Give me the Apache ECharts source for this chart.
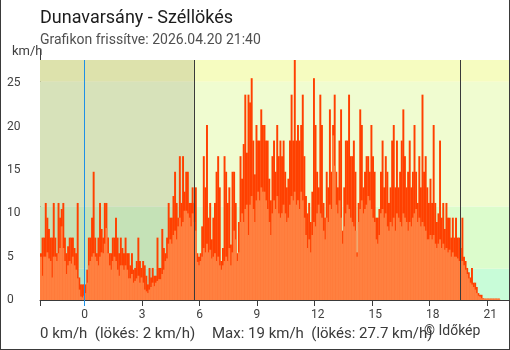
<!DOCTYPE html>
<html>
<head>
<meta charset="utf-8">
<script src="https://cdn.jsdelivr.net/npm/echarts@6/dist/echarts.min.js"></script>
<style>
  html, body { margin: 0; padding: 0; background: #ffffff; }
  #chart { width: 510px; height: 350px; }
</style>
</head>
<body>
<div id="chart"></div>
<script>
// 24 hours of wind readings, one value every 5 minutes, starting 21:40 the previous evening.
const startHour = -(2 + 20 / 60);
const stepHours = 5 / 60;
const axisEndHour = 22.15;

// Gusts (km/h)
const gustKmh = [
  5.4, 7.2, 7.2, 11.2, 9.5, 8.2, 7.2, 7.2, 11.2, 7.2, 5.4, 11.2, 9.5, 10.5, 11.2, 7.2, 5.4, 6.2, 7.2, 7.2,
  7.2, 6.0, 5.4, 11.2, 2.6, 1.8, 1.8, 1.8, 1.8, 3.5, 7.2, 7.2, 9.5, 14.8, 7.2, 5.4, 7.2, 11.2, 8.2, 7.2,
  11.2, 11.2, 7.2, 5.4, 5.4, 7.2, 7.2, 9.5, 7.2, 5.4, 7.2, 6.0, 5.4, 7.2, 5.4, 5.4, 4.0, 5.4, 3.5, 3.7,
  4.5, 7.2, 4.5, 3.7, 4.5, 4.0, 2.8, 1.8, 3.7, 2.6, 3.7, 2.8, 2.8, 7.2, 3.7, 3.7, 8.2, 6.0, 5.4, 7.2,
  11.2, 9.5, 9.5, 12.0, 14.8, 11.2, 9.5, 16.6, 11.2, 16.6, 12.5, 14.8, 14.8, 11.2, 11.2, 13.0, 11.2, 13.0, 5.4, 5.0,
  5.4, 8.5, 16.6, 13.0, 20.2, 9.5, 11.2, 7.0, 9.5, 11.2, 14.8, 16.6, 13.0, 4.5, 6.0, 16.6, 14.8, 11.2, 13.0, 6.4,
  14.8, 14.8, 11.2, 5.4, 9.0, 16.6, 14.0, 18.0, 23.7, 17.0, 23.7, 22.8, 25.6, 18.4, 14.5, 20.2, 18.4, 18.4, 22.0, 20.2,
  20.2, 18.4, 18.4, 14.0, 11.5, 16.6, 18.4, 14.8, 20.2, 16.6, 18.4, 16.6, 18.4, 14.8, 13.0, 14.0, 18.4, 23.7, 18.4, 27.7,
  18.4, 20.2, 18.4, 20.2, 23.7, 16.6, 12.0, 10.0, 11.2, 9.0, 12.5, 25.6, 20.2, 14.8, 13.0, 23.7, 20.2, 11.2, 9.5, 14.8,
  13.0, 22.0, 14.8, 20.2, 23.7, 14.8, 13.0, 18.4, 22.0, 8.0, 13.0, 18.4, 18.4, 23.7, 16.6, 16.6, 18.4, 14.8, 5.5, 11.2,
  22.0, 20.2, 13.0, 14.8, 16.6, 16.6, 14.8, 20.2, 16.6, 14.8, 9.5, 9.5, 10.5, 14.8, 18.4, 13.0, 16.6, 14.8, 11.2, 13.0,
  18.4, 20.2, 13.0, 18.4, 13.0, 14.8, 18.4, 22.0, 16.6, 13.0, 14.8, 18.4, 13.0, 14.8, 20.2, 14.8, 11.2, 16.6, 13.0, 23.7,
  14.8, 16.6, 13.0, 11.2, 14.0, 11.2, 20.2, 11.2, 9.0, 10.0, 18.4, 9.5, 11.2, 8.2, 11.2, 9.5, 9.5, 7.2, 9.5, 7.2,
  9.5, 7.2, 7.2, 6.0, 9.5, 5.0, 4.5, 3.7, 3.2, 2.6, 3.7, 2.0, 2.0, 1.5, 0.8, 0.6, 0.6, 0.2, 0.15, 0.15,
  0.15, 0.15, 0.15, 0.15, 0.15, 0.15, 0.15, 0.15
];

// Average wind speed (km/h)
const avgKmh = [
  5.0, 2.8, 5.0, 5.0, 5.5, 4.8, 4.5, 2.6, 5.0, 5.0, 4.5, 5.4, 6.0, 8.5, 6.0, 4.5, 3.0, 4.0, 4.5, 4.2,
  5.0, 4.0, 3.5, 2.5, 1.2, 0.4, 0.3, 0.5, 0.8, 2.0, 4.0, 4.5, 5.0, 5.4, 5.0, 4.5, 4.0, 5.0, 5.5, 5.4,
  6.5, 8.3, 5.4, 4.0, 3.5, 4.5, 5.0, 4.5, 3.5, 2.8, 4.0, 4.0, 3.5, 4.0, 3.5, 2.5, 2.5, 3.0, 2.0, 2.2,
  2.5, 2.8, 2.0, 2.6, 2.0, 1.2, 1.0, 0.8, 1.2, 1.5, 2.0, 1.6, 2.0, 2.2, 2.4, 2.4, 3.0, 3.5, 4.5, 4.8,
  6.5, 7.0, 6.5, 7.5, 8.0, 7.0, 8.5, 9.5, 8.5, 9.0, 10.3, 10.3, 10.0, 9.5, 8.5, 10.0, 9.0, 8.0, 4.4, 4.0,
  4.5, 5.0, 6.0, 5.5, 6.5, 5.5, 5.8, 4.8, 5.0, 5.4, 4.5, 5.0, 4.0, 3.5, 4.0, 4.5, 5.0, 4.5, 6.0, 4.0,
  5.5, 8.0, 7.0, 4.5, 5.5, 9.0, 10.0, 9.0, 10.5, 11.0, 7.5, 11.0, 12.0, 10.5, 9.0, 11.5, 12.5, 11.5, 13.0, 12.5,
  12.5, 11.5, 10.5, 9.0, 7.5, 10.0, 11.5, 10.5, 12.0, 10.0, 9.5, 10.0, 11.0, 10.0, 9.0, 9.5, 11.0, 12.0, 11.5, 12.5,
  11.0, 11.5, 10.5, 12.5, 11.5, 9.5, 7.5, 6.0, 7.0, 5.5, 7.5, 9.0, 8.5, 10.0, 11.0, 10.0, 9.5, 8.0, 7.0, 9.5,
  9.0, 11.0, 10.5, 19.0, 15.5, 11.0, 10.0, 11.5, 9.5, 6.5, 8.5, 10.0, 11.0, 10.5, 9.5, 9.0, 8.5, 8.0, 5.0, 9.0,
  10.5, 11.5, 10.0, 10.5, 11.0, 12.0, 11.5, 10.5, 9.5, 9.0, 7.0, 6.5, 7.5, 10.0, 10.5, 9.5, 10.0, 8.5, 8.0, 9.0,
  8.5, 9.5, 8.0, 10.0, 9.5, 9.0, 8.5, 10.0, 9.5, 9.0, 8.0, 9.0, 8.5, 9.5, 10.0, 10.5, 9.0, 9.5, 8.5, 9.0,
  8.5, 8.0, 7.0, 7.0, 7.5, 7.0, 7.5, 6.5, 6.0, 6.5, 7.0, 6.0, 6.5, 5.8, 6.0, 5.5, 5.8, 5.0, 5.5, 5.0,
  5.0, 4.8, 4.5, 4.5, 4.5, 4.0, 3.5, 3.0, 2.5, 2.0, 1.8, 1.5, 1.2, 0.8, 0.5, 0.4, 0.2, 0.15, 0.15, 0.15,
  0.15, 0.15, 0.15, 0.15, 0.15, 0.15, 0.15, 0.15
];

// Latest reading shown in the footer
const currentAvg = 0;
const currentGust = 2;

// Axis ticks
const hourTicks = [0, 3, 6, 9, 12, 15, 18, 21];
const speedTicks = [0, 5, 10, 15, 20, 25];

// Background bands (km/h) and their colours
const bandEdges = [0, 3.6, 10.8, 25.2];
const bandColors = ['#c8fcd8', '#dcfccc', '#f0fcd0', '#f6fcc0'];

// Day markers (hours from midnight)
const midnightHour = 0;
const sunriseHour = 5.7;
const sunsetHour = 19.62;

const ink = '#3a3a3a';
const fontFamily = 'Roboto, "Noto Sans", sans-serif';

const gustMax = Math.max(...gustKmh);
const avgMax = Math.max(...avgKmh);
const slotHour = i => startHour + (i + 0.5) * stepHours;

const chart = echarts.init(document.getElementById('chart'), null, { renderer: 'canvas' });

// x labels sit with their first digit over the tick
const labelShift = 3.5 / (469 / (axisEndHour - startHour));

const fmt = v => (Math.round(v * 10) / 10).toString();

const bandAreas = bandEdges.map((lo, k) => {
  const hi = k + 1 < bandEdges.length ? bandEdges[k + 1] : gustMax;
  return [{ yAxis: lo, itemStyle: { color: bandColors[k] } }, { yAxis: hi }];
});

// One column per 5-minute slot, filling the whole slot width
function columnRenderer(color) {
  return function (params, api) {
    const t = api.value(0);
    const v = api.value(1);
    const base = api.coord([t - stepHours / 2, 0]);
    const top = api.coord([t + stepHours / 2, v]);
    return {
      type: 'rect',
      shape: { x: base[0], y: top[1], width: top[0] - base[0] + 0.35, height: base[1] - top[1] },
      style: { fill: color }
    };
  };
}

chart.setOption({
  animation: false,
  textStyle: { fontFamily },
  grid: { left: 40, right: 1, top: 60, bottom: 50, containLabel: false },
  xAxis: [
    {
      type: 'value', min: startHour, max: axisEndHour,
      axisLine: { show: true, onZero: false, lineStyle: { color: ink, width: 1 } },
      axisTick: { show: true, length: 6, lineStyle: { color: ink }, customValues: [startHour].concat(hourTicks.filter(h => h !== midnightHour)) },
      axisLabel: {
        show: true, customValues: hourTicks.map(h => h - labelShift), align: 'left',
        formatter: v => String(Math.round(v + labelShift)), color: '#404040', fontSize: 12, margin: 9, fontFamily
      },
      splitLine: { show: false }
    },
    {
      type: 'value', min: startHour, max: axisEndHour, position: 'bottom',
      axisLine: { show: false },
      axisTick: { show: true, length: 6, lineStyle: { color: '#1e90e6' }, customValues: [midnightHour] },
      axisLabel: { show: false },
      splitLine: { show: false }
    }
  ],
  yAxis: [
    {
      type: 'value', min: 0, max: gustMax,
      axisLine: { show: false },
      axisTick: { show: true, length: 6, lineStyle: { color: ink }, customValues: speedTicks },
      axisLabel: { show: true, customValues: speedTicks, align: 'left', margin: 33, color: '#404040', fontSize: 12, fontFamily },
      splitLine: { show: false }
    },
    {
      type: 'value', min: 0, max: gustMax, position: 'left',
      axisLine: { show: false },
      axisTick: { show: true, inside: true, length: 6, lineStyle: { color: ink }, customValues: speedTicks },
      axisLabel: { show: false },
      splitLine: { show: false }
    }
  ],
  series: [
    {
      name: 'bands', type: 'line', data: [], z: 0, silent: true,
      markArea: { silent: true, data: bandAreas }
    },
    {
      name: 'night', type: 'line', data: [], z: 1, silent: true,
      markArea: { silent: true, itemStyle: { color: 'rgba(0,0,0,0.1)' }, data: [[{ xAxis: startHour }, { xAxis: sunriseHour }]] }
    },
    {
      name: 'Széllökés', type: 'custom', z: 2, silent: true,
      renderItem: columnRenderer('#ff4000'),
      encode: { x: 0, y: 1 },
      data: gustKmh.map((v, i) => [slotHour(i), v])
    },
    {
      name: 'markers', type: 'line', data: [], z: 3, silent: true,
      markLine: {
        silent: true, symbol: ['none', 'none'], label: { show: false },
        data: [
          [{ coord: [midnightHour, 0], lineStyle: { color: '#1e90e6', width: 1, type: 'solid' } }, { coord: [midnightHour, gustMax] }],
          [{ coord: [sunriseHour, 0], lineStyle: { color: ink, width: 1, type: 'solid' } }, { coord: [sunriseHour, gustMax] }],
          [{ coord: [sunsetHour, 0], lineStyle: { color: ink, width: 1, type: 'solid' } }, { coord: [sunsetHour, gustMax] }]
        ]
      }
    },
    {
      name: 'Átlagszél', type: 'custom', z: 4, silent: true,
      renderItem: columnRenderer('#ff8040'),
      encode: { x: 0, y: 1 },
      data: avgKmh.map((v, i) => [slotHour(i), v])
    }
  ],
  graphic: [
    { type: 'line', silent: true, shape: { x1: 40.5, y1: 50, x2: 40.5, y2: 306 }, style: { stroke: ink, lineWidth: 1 } },
    { type: 'line', silent: true, shape: { x1: 0.5, y1: 0, x2: 0.5, y2: 350 }, style: { stroke: ink, lineWidth: 1 } },
    { type: 'line', silent: true, shape: { x1: 509.5, y1: 0, x2: 509.5, y2: 350 }, style: { stroke: ink, lineWidth: 1 } },
    { type: 'line', silent: true, shape: { x1: 0, y1: 349.5, x2: 510, y2: 349.5 }, style: { stroke: ink, lineWidth: 1 } },
    { type: 'text', x: 40, y: 18.5, style: { text: 'Dunavarsány - Széllökés', fill: '#1c1c1c', font: '18px ' + fontFamily, verticalAlign: 'middle' } },
    { type: 'text', x: 40, y: 40, style: { text: 'Grafikon frissítve: 2026.04.20 21:40', fill: '#505050', font: '14px ' + fontFamily, verticalAlign: 'middle' } },
    { type: 'text', x: 12, y: 51.5, style: { text: 'km/h', fill: '#404040', font: '13px ' + fontFamily, verticalAlign: 'middle' } },
    { type: 'text', x: 40, y: 334.5, style: { text: currentAvg + ' km/h  (lökés: ' + currentGust + ' km/h)', fill: '#3a3a3a', font: '15px ' + fontFamily, verticalAlign: 'middle' } },
    { type: 'text', x: 212, y: 334.5, style: { text: 'Max: ' + fmt(avgMax) + ' km/h  (lökés: ' + fmt(gustMax) + ' km/h)', fill: '#3a3a3a', font: '15px ' + fontFamily, verticalAlign: 'middle' } },
    { type: 'text', x: 424, y: 331, style: { text: '© Időkép', fill: '#3a3a3a', font: '14px ' + fontFamily, verticalAlign: 'middle' } }
  ]
});
</script>
</body>
</html>
